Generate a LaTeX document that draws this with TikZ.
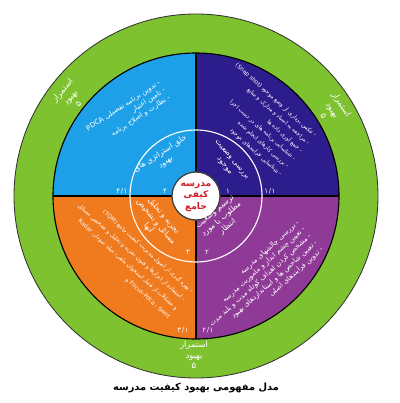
\documentclass[tikz,border=0pt]{standalone}
\usepackage{fontspec}
\newfontfamily\farsi[Script=Arabic]{DejaVu Sans}
\TeXXeTstate=1
\newcommand\rtline[1]{\beginR #1\endR}
\newcommand\frc[2]{#1\kern0.4pt/\kern0.4pt#2}
\definecolor{ringgreen}{RGB}{126,194,48}
\definecolor{qblue}{RGB}{30,160,232}
\definecolor{qindigo}{RGB}{44,28,140}
\definecolor{qorange}{RGB}{240,122,30}
\definecolor{qpurple}{RGB}{142,58,150}
\definecolor{hubred}{RGB}{210,30,40}

\begin{document}
\begin{tikzpicture}[x=0.025cm, y=0.025cm,
    fa/.style={font=\farsi\fontsize{5}{6.4}\selectfont, text=white, inner sep=0pt},
    list/.style={fa, align=right, anchor=north east},
    small list/.style={list, font=\farsi\fontsize{4.1}{7.4}\selectfont},
    stage/.style={fa, font=\farsi\fontsize{5.5}{7}\selectfont, align=center},
    num/.style={fa, font=\farsi\fontsize{5}{6}\selectfont},
    ring/.style={fa, font=\farsi\fontsize{6}{7.5}\selectfont, align=center}]
    \useasboundingbox (0,0) rectangle (400,403);
    \coordinate (o) at (196,207);
    % outer ring and quarters
    \fill[ringgreen] (o) circle (182);
    \draw[black!80, line width=0.6pt] (o) circle (182);
    \fill[qindigo] (o) -- ++(143,0) arc (0:90:143) -- cycle;
    \fill[qblue]   (o) -- ++(0,143) arc (90:180:143) -- cycle;
    \fill[qorange] (o) -- ++(-143,0) arc (180:270:143) -- cycle;
    \fill[qpurple] (o) -- ++(0,-143) arc (270:360:143) -- cycle;
    \draw[line width=0.8pt] (o) circle (143);
    \draw[line width=1pt] (o) ++(-143,0) -- ++(286,0);
    \draw[line width=1pt] (o) ++(0,-143) -- ++(0,286);
    \draw[white, line width=0.8pt] (o) circle (66);
    \fill[white] (o) circle (24);
    \draw[black!75, line width=0.9pt] (o) circle (24);
    \node[font=\farsi\bfseries\fontsize{6.5}{8}\selectfont, text=hubred, align=center, inner sep=0pt] (hub) at (196,206)
        {\rtline{مدرسه}\\\rtline{کیفی}\\\rtline{جامع}};
    % lists in the quarters
    \node[list, rotate=33] (plan) at (158,324)
        {\rtline{- تدوین برنامه تفصیلی \beginL PDCA\endL}\\
         \rtline{- تامین اعتبار}\\
         \rtline{- نظارت و اصلاح برنامه}};
    \node[small list, rotate=-42] (now) at (318,269)
        {\rtline{- عکس برداری از وضع موجود \beginL(Snap shot)\endL}\\
         \rtline{- مراجعه به اسناد و مدارک و منابع}\\
         \rtline{- جمع آوری داده ها}\\
         \rtline{- شناسایی برنامه های در دست اجرا}\\
         \rtline{- بررسی کارهای انجام شده}\\
         \rtline{- شناسایی فرایندهای موجود}};
    \node[small list, rotate=-42, font=\farsi\fontsize{4.1}{8.2}\selectfont] (tools) at (195,114)
        {\rtline{- بهره گیری از اصول مدیریت کیفیت جامع \beginL(TQM)\endL}\\
         \rtline{- استفاده از ابزارها و فنون تجزیه و تحلیل و تشخیص مسائل}\\
         \rtline{و مشکلات از قبیل استخوان ماهی، میله نمودار، \beginL Radar\endL}\\
         \rtline{\beginL Swot\endL{} ، \beginL Focus-Pdca\endL{} و}};
    \node[list, rotate=42] (goal) at (296,184)
        {\rtline{- بررسی چالشهای مدرسه}\\
         \rtline{- تعیین چشم انداز و ماموریت مدرسه}\\
         \rtline{- مشخص کردن اهداف کوتاه مدت و بلند مدت}\\
         \rtline{- تعیین شاخص ها و استانداردهای بهبود}\\
         \rtline{- تدوین فرایندهای اصلی}};
    % stages in the inner ring
    \node[stage, rotate=33] (s4) at (163,245) {\rtline{خلق استراتژی های}\\\rtline{بهبود}};
    \node[stage, rotate=-50] (s1) at (228,240) {\rtline{بررسی وضعیت}\\\rtline{موجود}};
    \node[stage, rotate=-50] (s3) at (156,181) {\rtline{تجزیه و تحلیل}\\\rtline{مسائل و تشخیص}\\\rtline{آنها}};
    \node[stage, rotate=40] (s2) at (222,183) {\rtline{ترسیم وضعیت}\\\rtline{مطلوب یا مورد}\\\rtline{انتظار}};
    % step numbers
    \node[num] (n41) at (122,212) {\frc{۴}{۱}};
    \node[num] (n4)  at (165,212) {۴};
    \node[num] (n1)  at (228,212) {۱};
    \node[num] (n11) at (270,212) {\frc{۱}{۱}};
    \node[num] (n3)  at (188,151) {۳};
    \node[num] (n2)  at (207,151) {۲};
    \node[num] (n31) at (183,73)  {\frc{۳}{۱}};
    \node[num] (n21) at (208,73)  {\frc{۲}{۱}};
    % ring labels
    \node[ring, rotate=50]  (keep1) at (70,306) {\rtline{استمرار}\\\rtline{بهبود}\\۵};
    \node[ring, rotate=-58] (keep2) at (333,293) {\rtline{استمرار}\\\rtline{بهبود}\\۵};
    \node[ring]             (keep3) at (194,48)  {\rtline{استمرار}\\\rtline{بهبود}\\۵};
    % caption
    \node[font=\farsi\bfseries\fontsize{7}{8}\selectfont, inner sep=0pt] (title) at (196,15)
        {\rtline{مدل مفهومی بهبود کیفیت مدرسه}};
\end{tikzpicture}
\end{document}
